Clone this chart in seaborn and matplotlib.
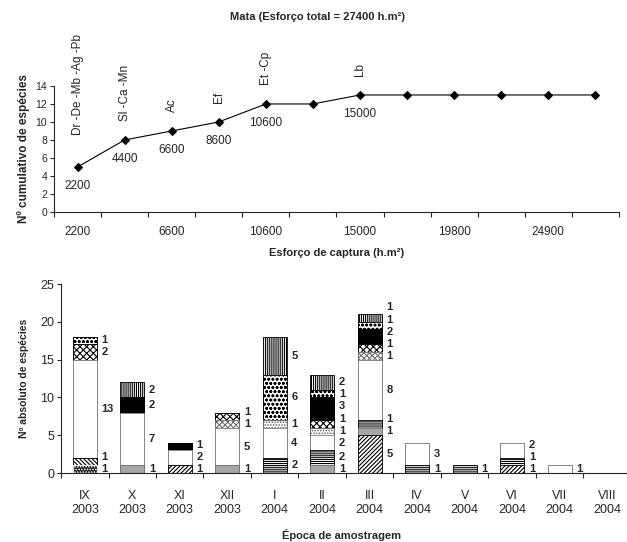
import numpy as np
import pandas as pd
import seaborn as sns
import matplotlib.pyplot as plt

# Curva cumulativa de espécies (Mata)
esforco = [2200, 4400, 6600, 8600, 10600, 12800, 15000, 17400, 19800, 22400, 24900, 27400]
n_cumulativo = [5, 8, 9, 10, 12, 12, 13, 13, 13, 13, 13, 13]
especies_novas = ['Dr -De -Mb -Ag -Pb', 'Sl -Ca -Mn', 'Ac', 'Ef', 'Et -Cp', '', 'Lb', '', '', '', '', '']

# Número absoluto de espécies por época de amostragem
meses = ['IX', 'X', 'XI', 'XII', 'I', 'II', 'III', 'IV', 'V', 'VI', 'VII', 'VIII']
anos = [2003, 2003, 2003, 2003, 2004, 2004, 2004, 2004, 2004, 2004, 2004, 2004]

# camadas das barras empilhadas (de baixo para cima)
camadas = {
    'pontos_escuros': [1, 0, 0, 0, 0, 0, 0, 0, 0, 0, 0, 0],
    'contra_diagonal': [1, 0, 0, 0, 0, 0, 0, 0, 0, 0, 0, 0],
    'diagonal': [0, 0, 1, 0, 0, 0, 5, 0, 0, 1, 0, 0],
    'cinza': [0, 1, 0, 1, 0, 1, 1, 0, 0, 0, 0, 0],
    'horizontal': [0, 0, 0, 0, 2, 2, 1, 1, 1, 1, 0, 0],
    'branco': [13, 7, 2, 5, 4, 2, 8, 3, 0, 2, 1, 0],
    'pontilhado': [0, 0, 0, 0, 1, 1, 0, 0, 0, 0, 0, 0],
    'losangos': [0, 0, 0, 1, 0, 0, 1, 0, 0, 0, 0, 0],
    'xadrez': [2, 0, 0, 1, 0, 1, 1, 0, 0, 0, 0, 0],
    'preto': [0, 2, 1, 0, 0, 3, 2, 0, 0, 0, 0, 0],
    'circulos': [1, 0, 0, 0, 6, 1, 1, 0, 0, 0, 0, 0],
    'vertical': [0, 2, 0, 0, 5, 2, 1, 0, 0, 0, 0, 0],
}

# estilo de cada camada: (cor, borda, hachura)
estilos = {
    'pontos_escuros': ('#202020', 'white', '......'),
    'contra_diagonal': ('white', 'black', '\\\\\\\\\\\\\\\\'),
    'diagonal': ('white', 'black', '////////'),
    'cinza': ('#a6a6a6', '#808080', ''),
    'horizontal': ('white', 'black', '--------'),
    'branco': ('white', '#808080', ''),
    'pontilhado': ('white', '#606060', '......'),
    'losangos': ('white', '#707070', 'xxxxxx'),
    'xadrez': ('white', 'black', 'XXXXX'),
    'preto': ('black', 'black', ''),
    'circulos': ('white', 'black', 'oooo'),
    'vertical': ('white', 'black', '||||||||'),
}

sns.set_style('ticks')
plt.rcParams['font.family'] = ['Liberation Sans', 'DejaVu Sans']
plt.rcParams['hatch.linewidth'] = 0.8
plt.rcParams['axes.linewidth'] = 0.8

fig = plt.figure(figsize=(6.27, 5.42), dpi=100)
ax1 = fig.add_axes([0.0861, 0.6089, 0.9011, 0.2325])
ax2 = fig.add_axes([0.0973, 0.1273, 0.9090, 0.3487])

# ---- Gráfico 1: curva cumulativa ----
pos = np.arange(len(esforco))
df_curva = pd.DataFrame({'pos': pos, 'n': n_cumulativo})
sns.lineplot(data=df_curva, x='pos', y='n', marker='D', markersize=4, color='black',
             linewidth=0.8, markeredgecolor='black', ax=ax1)

for i, nome in enumerate(especies_novas):
    if nome == '':
        continue
    desloc = 23 if i == 0 else 14
    ax1.annotate(nome, (i, n_cumulativo[i]), xytext=(0, desloc), textcoords='offset points',
                 rotation=90, ha='center', va='bottom', fontsize=8.5)
    ax1.annotate(str(esforco[i]), (i, n_cumulativo[i]), xytext=(0, -14), textcoords='offset points',
                 ha='center', va='center', fontsize=8.5)

ax1.set_xlim(-0.5, len(esforco) - 0.5)
ax1.set_ylim(0, 14)
ax1.set_yticks(range(0, 15, 2))
ax1.set_xticks(np.arange(-0.5, len(esforco), 1))
ax1.set_xticklabels([])
ax1.set_xticks(pos[::2], labels=[str(e) for e in esforco[::2]], minor=True)
ax1.tick_params(axis='x', which='major', length=3.5, width=0.8, direction='out')
ax1.tick_params(axis='x', which='minor', length=0, pad=10, labelsize=8.5)
ax1.tick_params(axis='y', length=3, width=0.8, labelsize=7.5, pad=2)
ax1.set_xlabel('')
ax1.set_ylabel('Nº cumulativo de espécies', fontsize=8.5, fontweight='bold', labelpad=4)
sns.despine(ax=ax1)

fig.text(0.506, 0.969, 'Mata (Esforço total = 27400 h.m²)', ha='center', va='center',
         fontsize=8, fontweight='bold')
fig.text(0.536, 0.533, 'Esforço de captura (h.m²)', ha='center', va='center',
         fontsize=8, fontweight='bold')

# ---- Gráfico 2: barras empilhadas ----
rotulos_x = [f'{m}\n{a}' for m, a in zip(meses, anos)]
nomes = list(camadas.keys())
valores = np.array([camadas[n] for n in nomes])
acumulado = valores.cumsum(axis=0)

# desenha do topo para a base, cada barra cobre as de cima
for k in range(len(nomes) - 1, -1, -1):
    cor, borda, hach = estilos[nomes[k]]
    df_b = pd.DataFrame({'mes': rotulos_x, 'v': acumulado[k]})
    sns.barplot(data=df_b, x='mes', y='v', order=rotulos_x, color=cor, edgecolor=borda,
                hatch=hach, linewidth=0.6, width=0.5, saturation=1, ax=ax2)

# rótulos dos valores ao lado de cada barra
def espalhar(centros, gap=1.6):
    saida = []
    for c in centros:
        if saida and c < saida[-1] + gap:
            c = saida[-1] + gap
        saida.append(c)
    return saida

for j in range(len(meses)):
    centros, textos = [], []
    for k in range(len(nomes)):
        v = valores[k, j]
        if v > 0:
            centros.append(acumulado[k, j] - v / 2)
            textos.append(str(v))
    for y, t in zip(espalhar(centros), textos):
        ax2.text(j + 0.35, y, t, ha='left', va='center', fontsize=8, fontweight='bold')

ax2.set_xlim(-0.5, len(meses) - 0.5)
ax2.set_ylim(0, 25)
ax2.set_yticks(range(0, 26, 5))
ax2.set_xticks(np.arange(-0.5, len(meses), 1))
ax2.set_xticklabels([])
ax2.set_xticks(np.arange(len(meses)), labels=rotulos_x, minor=True)
ax2.tick_params(axis='x', which='major', length=3.5, width=0.8, direction='out')
ax2.tick_params(axis='x', which='minor', length=0, pad=12, labelsize=9)
ax2.tick_params(axis='y', length=3, width=0.8, labelsize=9, pad=2)
for t in ax2.get_xticklabels(minor=True):
    t.set_linespacing(1.3)
ax2.set_xlabel('')
ax2.set_ylabel('Nº absoluto de espécies', fontsize=7.5, fontweight='bold', labelpad=8)
sns.despine(ax=ax2)

fig.text(0.545, 0.013, 'Época de amostragem', ha='center', va='center',
         fontsize=8, fontweight='bold')

plt.savefig('out.png', dpi=100)
plt.close()
